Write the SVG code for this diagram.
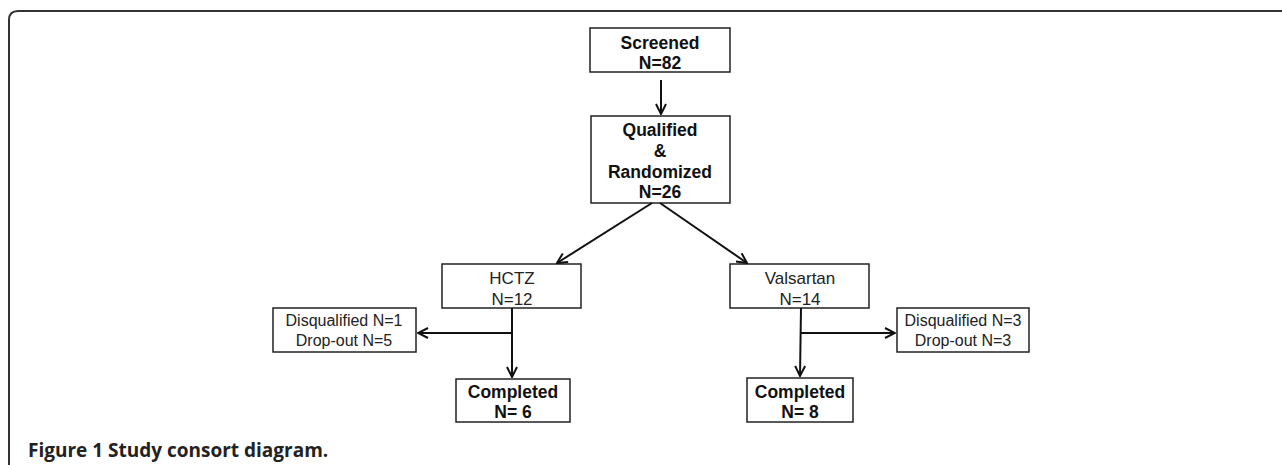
<svg xmlns="http://www.w3.org/2000/svg" width="1282" height="465" viewBox="0 0 1282 465">
<style>
.box{fill:#fff;stroke:#222;stroke-width:1.5}
.tb{font-family:"Liberation Sans",Arial,sans-serif;font-size:17.5px;font-weight:bold;fill:#111;text-anchor:middle}
.tn{font-family:"Liberation Sans",Arial,sans-serif;font-size:17px;fill:#222;text-anchor:middle}
.ts{font-family:"Liberation Sans",Arial,sans-serif;font-size:16px;fill:#222;text-anchor:middle}
.ln{fill:none;stroke:#111;stroke-width:2}
</style>
<defs>
<marker id="ah" viewBox="0 0 12 12" refX="11" refY="6" markerWidth="12" markerHeight="12" markerUnits="userSpaceOnUse" orient="auto">
<path d="M1,1 L11,6 L1,11" fill="none" stroke="#111" stroke-width="2"/>
</marker>
</defs>
<path d="M9,465 L9,20 Q9,11 18,11 L1282,11" fill="none" stroke="#333" stroke-width="2"/>
<g id="screened"><rect class="box" x="590" y="28" width="140" height="44"/><text class="tb" x="660" y="49">Screened</text><text class="tb" x="660" y="69">N=82</text></g>
<g id="randomized"><rect class="box" x="591" y="116" width="139" height="87"/><text class="tb" x="660" y="136">Qualified</text><text class="tb" x="660" y="157">&amp;</text><text class="tb" x="660" y="178">Randomized</text><text class="tb" x="660" y="198">N=26</text></g>
<g id="hctz"><rect class="box" x="442" y="264" width="139" height="44"/><text class="tn" x="512" y="284">HCTZ</text><text class="tn" x="512" y="305">N=12</text></g>
<g id="valsartan"><rect class="box" x="730" y="264" width="139" height="44"/><text class="tn" x="800" y="284">Valsartan</text><text class="tn" x="800" y="305">N=14</text></g>
<g id="drop-hctz"><rect class="box" x="273" y="308" width="143" height="44"/><text class="ts" x="344" y="326">Disqualified N=1</text><text class="ts" x="344" y="346">Drop-out N=5</text></g>
<g id="drop-valsartan"><rect class="box" x="897" y="308" width="132" height="44"/><text class="ts" x="963" y="326">Disqualified N=3</text><text class="ts" x="963" y="346">Drop-out N=3</text></g>
<g id="completed-hctz"><rect class="box" x="456" y="379" width="114" height="43"/><text class="tb" x="513" y="398">Completed</text><text class="tb" x="513" y="418">N= 6</text></g>
<g id="completed-valsartan"><rect class="box" x="747" y="378" width="106" height="44"/><text class="tb" x="800" y="398">Completed</text><text class="tb" x="800" y="418">N= 8</text></g>
<g id="connectors">
<line class="ln" x1="661" y1="80" x2="661" y2="114" marker-end="url(#ah)"/>
<line class="ln" x1="652" y1="203" x2="557" y2="263" marker-end="url(#ah)"/>
<line class="ln" x1="660" y1="203" x2="747" y2="263" marker-end="url(#ah)"/>
<line class="ln" x1="512" y1="308" x2="512" y2="377" marker-end="url(#ah)"/>
<line class="ln" x1="512" y1="333" x2="418" y2="333" marker-end="url(#ah)"/>
<line class="ln" x1="801" y1="308" x2="800" y2="376" marker-end="url(#ah)"/>
<line class="ln" x1="800" y1="333" x2="895" y2="333" marker-end="url(#ah)"/>
</g>
<text x="28" y="457" font-family="'Open Sans',sans-serif" font-size="19px" font-weight="700" fill="#222">Figure 1 Study consort diagram.</text>
</svg>
